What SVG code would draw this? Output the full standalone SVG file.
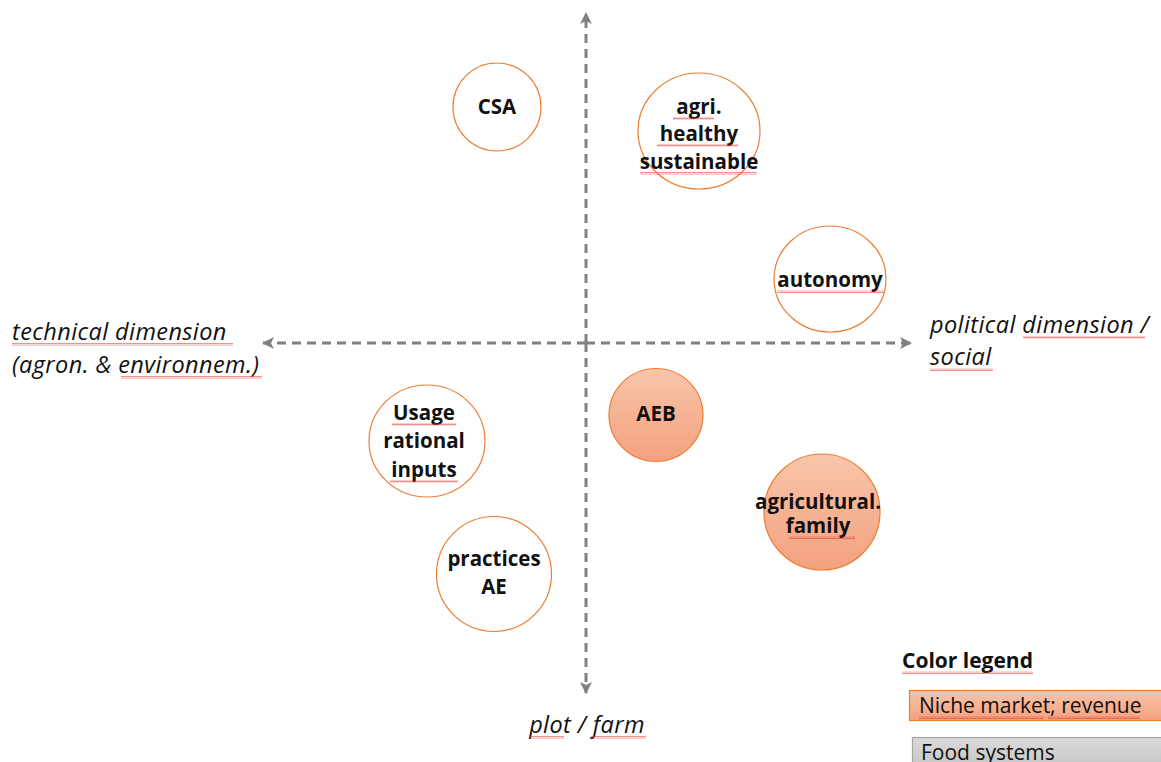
<svg xmlns="http://www.w3.org/2000/svg" width="1161" height="762" viewBox="0 0 1161 762">
  <style>
    .axis { stroke: #808080; stroke-width: 3; stroke-dasharray: 9 6; fill: none; }
    .open { fill: #ffffff; stroke: #ED7D31; stroke-width: 1.2; }
    .filled { fill: url(#salmon); stroke: #ED7D31; stroke-width: 1.2; }
    .lbl { font-family: "Open Sans", "Noto Sans", sans-serif; font-weight: bold; font-size: 20.5px; fill: #111; text-anchor: middle; }
    .ax { font-family: "Open Sans", "Noto Sans", sans-serif; font-style: italic; font-size: 23.5px; letter-spacing: 0.4px; fill: #111; }
    .leg { font-family: "Open Sans", "Noto Sans", sans-serif; font-size: 21px; fill: #111; }
    .sq { fill: url(#wave); opacity: 0.8; }
  </style>
  <defs>
    <linearGradient id="salmon" x1="0" y1="0" x2="0" y2="1">
      <stop offset="0" stop-color="#F8C5AA"/>
      <stop offset="1" stop-color="#F3A17E"/>
    </linearGradient>
    <linearGradient id="grey" x1="0" y1="0" x2="0" y2="1">
      <stop offset="0" stop-color="#DADADA"/>
      <stop offset="1" stop-color="#C6C6C6"/>
    </linearGradient>
    <pattern id="wave" width="4" height="3" patternUnits="userSpaceOnUse">
      <path d="M0 2.5 L1 0.5 L2 2.5 L3 0.5 L4 2.5" fill="none" stroke="#E53935" stroke-width="0.7"/>
    </pattern>
    <marker id="head" viewBox="0 0 12 12" refX="11" refY="6" markerWidth="12" markerHeight="12" markerUnits="userSpaceOnUse" orient="auto">
      <path d="M0 0 L12 6 L0 12 L3 6 Z" fill="#808080"/>
    </marker>
  </defs>

  <rect width="1161" height="762" fill="#ffffff"/>

  <!-- axes -->
  <g id="connectors">
    <path class="axis" d="M586 343 L586 13" marker-end="url(#head)"/>
    <path class="axis" d="M586 343 L586 693" marker-end="url(#head)"/>
    <path class="axis" d="M586 343 L263 343" marker-end="url(#head)"/>
    <path class="axis" d="M586 343 L911 343" marker-end="url(#head)"/>
  </g>

  <!-- axis labels -->
  <g id="axis-labels">
    <text class="ax" x="12" y="340">technical dimension</text>
    <text class="ax" x="12" y="373">(agron. &amp; environnem.)</text>
    <rect class="sq" x="12" y="343" width="221" height="3"/>
    <rect class="sq" x="121" y="376" width="141" height="3"/>
    <text class="ax" x="930" y="333">political dimension /</text>
    <text class="ax" x="930" y="365">social</text>
    <rect class="sq" x="1023" y="336" width="122" height="3"/>
    <rect class="sq" x="930" y="368" width="63" height="3"/>
    <text class="ax" x="587" y="733" text-anchor="middle">plot / farm</text>
    <rect class="sq" x="529" y="736" width="35" height="3"/>
    <rect class="sq" x="591" y="736" width="55" height="3"/>
  </g>

  <g id="csa">
    <circle class="open" cx="497" cy="107" r="44"/>
    <text class="lbl" x="497" y="114">CSA</text>
  </g>

  <g id="agri-healthy">
    <ellipse class="open" cx="699" cy="131" rx="61" ry="58"/>
    <text class="lbl" x="699" y="114">agri.</text>
    <text class="lbl" x="699" y="141">healthy</text>
    <text class="lbl" x="699" y="169">sustainable</text>
    <rect class="sq" x="673" y="117" width="41" height="3"/>
    <rect class="sq" x="657" y="144" width="81" height="3"/>
    <rect class="sq" x="640" y="172" width="117" height="3"/>
  </g>

  <g id="autonomy">
    <ellipse class="open" cx="830" cy="279" rx="56" ry="53"/>
    <text class="lbl" x="830" y="287">autonomy</text>
    <rect class="sq" x="777" y="290" width="107" height="3"/>
  </g>

  <g id="usage">
    <ellipse class="open" cx="427" cy="441" rx="58" ry="56"/>
    <text class="lbl" x="424" y="420">Usage</text>
    <text class="lbl" x="424" y="448">rational</text>
    <text class="lbl" x="424" y="477">inputs</text>
    <rect class="sq" x="392" y="423" width="64" height="3"/>
    <rect class="sq" x="390" y="480" width="68" height="3"/>
  </g>

  <g id="practices">
    <circle class="open" cx="494" cy="574" r="57.5"/>
    <text class="lbl" x="494" y="566">practices</text>
    <text class="lbl" x="494" y="594">AE</text>
  </g>

  <g id="aeb">
    <ellipse class="filled" cx="656" cy="415" rx="47" ry="46.5"/>
    <text class="lbl" x="656" y="421">AEB</text>
  </g>

  <g id="family">
    <circle class="filled" cx="822" cy="512" r="58"/>
    <text class="lbl" x="818" y="509">agricultural.</text>
    <text class="lbl" x="818" y="533">family</text>
    <rect class="sq" x="789" y="536" width="66" height="3"/>
  </g>

  <!-- legend -->
  <g id="legend">
    <text class="leg" x="902" y="668" font-weight="bold" font-size="20.5">Color legend</text>
    <rect class="sq" x="902" y="671" width="131" height="3"/>
    <rect x="909.5" y="690.5" width="260" height="30" fill="url(#salmon)" stroke="#ED7D31" stroke-width="1.2"/>
    <text class="leg" x="919" y="713">Niche market; revenue</text>
    <rect class="sq" x="919" y="716" width="125" height="3"/>
    <rect class="sq" x="1048" y="716" width="92" height="3"/>
    <rect x="912.5" y="737.5" width="260" height="30" fill="url(#grey)" stroke="#A6A6A6" stroke-width="1.2"/>
    <text class="leg" x="921" y="760">Food systems</text>
  </g>
</svg>
